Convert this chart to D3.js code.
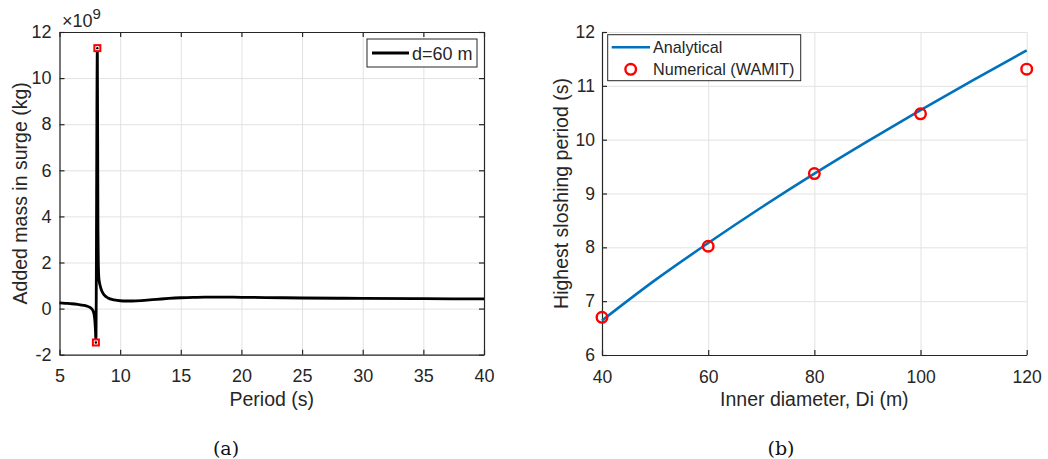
<!DOCTYPE html>
<html lang="en">
<head>
	<meta charset="UTF-8">
	<title>Added mass and sloshing period</title>
	<script src="https://cdn.jsdelivr.net/npm/d3@7"></script>
	<style>
		html,body{margin:0;padding:0;background:#fff;}
		svg{display:block;}
		text{font-family:"Liberation Sans",Arial,Helvetica,sans-serif;fill:#262626;}
		.grid line{stroke:#e2e2e2;stroke-width:1;}
		.grid path{stroke:none;}
		.axis path,.axis line{stroke:#262626;stroke-width:1.2;}
		.caption{font-family:"DejaVu Serif","Liberation Serif",serif;font-size:19px;fill:#111;}
	</style>
</head>
<body>
	<svg id="svg" width="1048" height="459"></svg>
	<script>
		// (a) added mass in surge, x1e9 kg
		var periods = [5, 5.5, 6, 6.5, 7, 7.3, 7.55, 7.75, 7.85, 7.92, 7.97, 8.0, 8.12, 8.17, 8.2, 8.25, 8.35, 8.5, 8.7, 9, 9.5, 10, 10.5, 11, 12, 13, 14, 15, 16, 17, 18, 20, 22, 25, 28, 30, 35, 40];
		var addedMass = [0.25, 0.23, 0.21, 0.18, 0.14, 0.1, 0.04, -0.08, -0.25, -0.55, -1.0, -1.47, 11.3, 3.5, 2.0, 1.3, 1.0, 0.75, 0.58, 0.46, 0.38, 0.34, 0.33, 0.33, 0.36, 0.4, 0.44, 0.47, 0.49, 0.5, 0.5, 0.49, 0.48, 0.46, 0.45, 0.44, 0.43, 0.42];
		var peakPeriods = [8.0, 8.12];
		var peakMass = [-1.47, 11.3];
		var xTicksA = [5, 10, 15, 20, 25, 30, 35, 40];
		var yTicksA = [-2, 0, 2, 4, 6, 8, 10, 12];

		// (b) highest sloshing period vs inner diameter
		var diamAnalytical = [40, 50, 60, 70, 80, 90, 100, 110, 120];
		var periodAnalytical = [6.64, 7.39, 8.08, 8.74, 9.37, 9.97, 10.55, 11.11, 11.66];
		var diamWamit = [40, 60, 80, 100, 120];
		var periodWamit = [6.70, 8.02, 9.37, 10.48, 11.31];
		var xTicksB = [40, 60, 80, 100, 120];
		var yTicksB = [6, 7, 8, 9, 10, 11, 12];

		var fmt = function(d){ return String(d); };   // plain hyphen minus like the original

		var svg = d3.select("#svg");
		svg.append("rect").attr("width",1048).attr("height",459).attr("fill","#fff");

		// ---------- panel (a) ----------
		var xa = d3.scaleLinear().domain([5,40]).range([59.5,484]);
		var ya = d3.scaleLinear().domain([-2,12]).range([354.7,32]);
		var ga = svg.append("g");

		ga.append("g").attr("class","grid")
			.attr("transform","translate(0,"+ya(-2)+")")
			.call(d3.axisBottom(xa).tickValues(xTicksA).tickSize(-(ya(-2)-ya(12))).tickFormat(""));
		ga.append("g").attr("class","grid")
			.attr("transform","translate("+xa(5)+",0)")
			.call(d3.axisLeft(ya).tickValues(yTicksA).tickSize(-(xa(40)-xa(5))).tickFormat(""));

		var axA = [
			ga.append("g").attr("transform","translate(0,"+ya(-2)+")")
				.call(d3.axisBottom(xa).tickValues(xTicksA).tickFormat(fmt).tickSizeInner(-5).tickSizeOuter(0).tickPadding(15)),
			ga.append("g").attr("transform","translate(0,"+ya(12)+")")
				.call(d3.axisTop(xa).tickValues(xTicksA).tickSizeInner(-5).tickSizeOuter(0).tickFormat("")),
			ga.append("g").attr("transform","translate("+xa(5)+",0)")
				.call(d3.axisLeft(ya).tickValues(yTicksA).tickFormat(fmt).tickSizeInner(-5).tickSizeOuter(0).tickPadding(8)),
			ga.append("g").attr("transform","translate("+xa(40)+",0)")
				.call(d3.axisRight(ya).tickValues(yTicksA).tickSizeInner(-5).tickSizeOuter(0).tickFormat(""))
		];
		axA.forEach(function(a){
			a.attr("class","axis");
			a.selectAll("text").style("font-size","18px").attr("fill","#262626");
		});

		var lineA = d3.line()
			.x(function(d){return xa(d[0]);})
			.y(function(d){return ya(d[1]);})
			.curve(d3.curveMonotoneX);
		ga.append("path")
			.datum(periods.map(function(p,i){return [p,addedMass[i]];}))
			.attr("d",lineA)
			.attr("fill","none").attr("stroke","#000").attr("stroke-width",2.8)
			.attr("stroke-linejoin","round");

		var pk = ga.selectAll(".peak").data(peakPeriods.map(function(p,i){return [p,peakMass[i]];}))
			.enter().append("g").attr("class","peak")
			.attr("transform",function(d){return "translate("+xa(d[0])+","+ya(d[1])+")";});
		pk.append("rect").attr("x",-4).attr("y",-4).attr("width",8).attr("height",8).attr("fill","#ff0000");
		pk.append("rect").attr("x",-2).attr("y",-2).attr("width",4).attr("height",4).attr("fill","#fff");
		pk.append("circle").attr("r",1.2).attr("fill","#000");

		// x10^9 multiplier
		var mult = ga.append("text").attr("x",62).attr("y",27).style("font-size","18px");
		mult.append("tspan").text("\u00d710");
		mult.append("tspan").attr("dy",-8).style("font-size","15px").text("9");

		ga.append("text").attr("x",(xa(5)+xa(40))/2).attr("y",406)
			.attr("text-anchor","middle").style("font-size","19.5px").text("Period (s)");
		ga.append("text").attr("transform","translate(27,"+((ya(-2)+ya(12))/2)+") rotate(-90)")
			.attr("text-anchor","middle").style("font-size","19.5px").text("Added mass in surge (kg)");

		// legend (a)
		var la = ga.append("g").attr("transform","translate(367,39)");
		la.append("rect").attr("width",110).attr("height",28).attr("fill","#fff").attr("stroke","#262626").attr("stroke-width",1);
		la.append("line").attr("x1",5).attr("x2",42).attr("y1",14).attr("y2",14).attr("stroke","#000").attr("stroke-width",2.8);
		la.append("text").attr("x",45).attr("y",20.5).style("font-size","18px").text("d=60 m");

		// ---------- panel (b) ----------
		var xb = d3.scaleLinear().domain([40,120]).range([602,1026.7]);
		var yb = d3.scaleLinear().domain([6,12]).range([355,32]);
		var gb = svg.append("g");

		gb.append("g").attr("class","grid")
			.attr("transform","translate(0,"+yb(6)+")")
			.call(d3.axisBottom(xb).tickValues(xTicksB).tickSize(-(yb(6)-yb(12))).tickFormat(""));
		gb.append("g").attr("class","grid")
			.attr("transform","translate("+xb(40)+",0)")
			.call(d3.axisLeft(yb).tickValues(yTicksB).tickSize(-(xb(120)-xb(40))).tickFormat(""));

		var axB = [
			gb.append("g").attr("transform","translate(0,"+yb(6)+")")
				.call(d3.axisBottom(xb).tickValues(xTicksB).tickFormat(fmt).tickSizeInner(-5).tickSizeOuter(0).tickPadding(15.5)),
			gb.append("g").attr("transform","translate("+xb(40)+",0)")
				.call(d3.axisLeft(yb).tickValues(yTicksB).tickFormat(fmt).tickSizeInner(-5).tickSizeOuter(0).tickPadding(7))
		];
		axB.forEach(function(a){
			a.attr("class","axis");
			a.selectAll("text").style("font-size","17.5px").attr("fill","#262626");
		});

		var lineB = d3.line()
			.x(function(d){return xb(d[0]);})
			.y(function(d){return yb(d[1]);})
			.curve(d3.curveMonotoneX);
		gb.append("path")
			.datum(diamAnalytical.map(function(d,i){return [d,periodAnalytical[i]];}))
			.attr("d",lineB)
			.attr("fill","none").attr("stroke","#0072bd").attr("stroke-width",2.6);

		gb.selectAll(".wamit").data(diamWamit.map(function(d,i){return [d,periodWamit[i]];}))
			.enter().append("circle").attr("class","wamit")
			.attr("cx",function(d){return xb(d[0]);})
			.attr("cy",function(d){return yb(d[1]);})
			.attr("r",5.3).attr("fill","none").attr("stroke","#ff0000").attr("stroke-width",2.4);

		gb.append("text").attr("x",(xb(40)+xb(120))/2).attr("y",406)
			.attr("text-anchor","middle").style("font-size","19.5px").text("Inner diameter, Di (m)");
		gb.append("text").attr("transform","translate(568,"+((yb(6)+yb(12))/2)+") rotate(-90)")
			.attr("text-anchor","middle").style("font-size","19.5px").text("Highest sloshing period (s)");

		// legend (b)
		var lb = gb.append("g").attr("transform","translate(607.7,34.7)");
		lb.append("rect").attr("width",193).attr("height",46).attr("fill","#fff").attr("stroke","#262626").attr("stroke-width",1);
		lb.append("line").attr("x1",4).attr("x2",42.3).attr("y1",12.6).attr("y2",12.6).attr("stroke","#0072bd").attr("stroke-width",2.6);
		lb.append("text").attr("x",45.3).attr("y",18.3).style("font-size","16.2px").text("Analytical");
		lb.append("circle").attr("cx",23).attr("cy",34.6).attr("r",5.3).attr("fill","none").attr("stroke","#ff0000").attr("stroke-width",2.4);
		lb.append("text").attr("x",45.3).attr("y",40.3).style("font-size","16.2px").text("Numerical (WAMIT)");

		// captions
		svg.append("text").attr("class","caption").attr("x",226).attr("y",455).attr("text-anchor","middle").text("(a)");
		svg.append("text").attr("class","caption").attr("x",781).attr("y",455).attr("text-anchor","middle").text("(b)");
	</script>
</body>
</html>
